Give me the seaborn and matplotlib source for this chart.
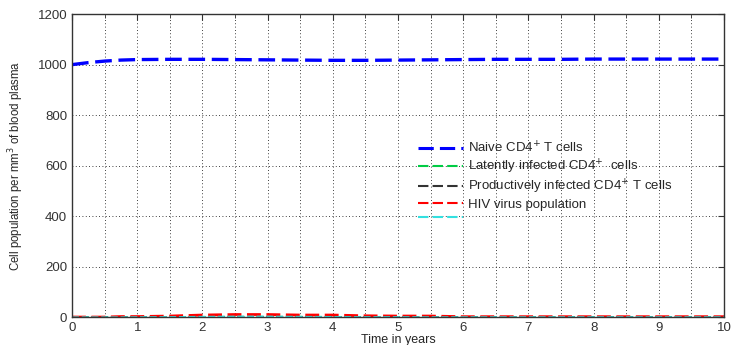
import numpy as np
import pandas as pd
import matplotlib
matplotlib.use("Agg")
import matplotlib.pyplot as plt
import seaborn as sns
from matplotlib import font_manager
from matplotlib.ticker import MultipleLocator

# ==========================================
# DATA
# ==========================================

time_years = [0, 0.25, 0.5, 0.75, 1, 1.5, 2, 2.5, 3, 3.5, 4, 4.5, 5,
              5.5, 6, 6.5, 7, 7.5, 8, 8.5, 9, 9.5, 10]

naive_cd4 = [1000, 1008, 1014, 1018, 1020, 1021, 1021, 1020, 1019, 1018,
             1017, 1017, 1018, 1019, 1020, 1021, 1021, 1021, 1022, 1022,
             1022, 1022, 1022]
latent_cd4 = [0, 0, 0, 0, 0.5, 1, 1.5, 2, 2, 2, 1.5, 1, 1,
              0.5, 0.5, 0.5, 0.5, 0.5, 0.5, 0.5, 0.5, 0.5, 0.5]
productive_cd4 = [0, 0, 0, 0, 0.3, 0.5, 0.8, 1, 1, 1, 0.8, 0.6, 0.5,
                  0.4, 0.3, 0.3, 0.3, 0.3, 0.3, 0.3, 0.3, 0.3, 0.3]
hiv_virus = [0, 0, 0, 2, 2, 4, 8, 10, 10, 8, 8, 5, 4,
             4, 1.5, 1.5, 1.5, 1.5, 1.5, 1.5, 1.5, 1.5, 1.5]
cyan_series = [0, 0, 0, 0, 0.5, 1, 2, 3, 3, 2, 1.5, 1, 1,
               0.5, 0.5, 0.5, 0.5, 0.5, 0.5, 0.5, 0.5, 0.5, 0.5]

series_labels = [
    "Naive CD4$^{+}$ T cells",
    "Latently infected CD4$^{+}$  cells",
    "Productively infected CD4$^{+}$ T cells",
    "HIV virus population",
    " ",
]
series_values = [naive_cd4, latent_cd4, productive_cd4, hiv_virus, cyan_series]
series_colors = ["#0000ff", "#00cc44", "#333333", "#ff0000", "#33e0e0"]
series_widths = [2.4, 1.0, 1.0, 2.0, 1.0]

# ==========================================
# PLOT
# ==========================================

sns.set_style("white")
plt.rcParams["font.family"] = ["Liberation Sans", "DejaVu Sans"]

# narrow font for the y label if it is there
try:
    font_manager.findfont("Liberation Sans Narrow", fallback_to_default=False)
    ylab_family, ylab_size = ["Liberation Sans Narrow"], 10.5
except Exception:
    ylab_family, ylab_size = ["Liberation Sans", "DejaVu Sans"], 8.3

fig = plt.figure(figsize=(7.31, 3.45), dpi=100)
ax = fig.add_axes([0.0985, 0.081, 0.892, 0.878])

for label, vals, color, lw in zip(series_labels, series_values,
                                  series_colors, series_widths):
    sns.lineplot(x=time_years, y=vals, ax=ax, color=color, label=label,
                 linewidth=lw, linestyle=(0, (5, 2)))

ax.set_xlim(0, 10)
ax.set_ylim(0, 1200)
ax.xaxis.set_major_locator(MultipleLocator(1))
ax.xaxis.set_minor_locator(MultipleLocator(0.5))
ax.yaxis.set_major_locator(MultipleLocator(200))

ax.grid(True, which="both", axis="x", linestyle=(0, (1, 3)),
        color="black", linewidth=0.6)
ax.grid(True, which="major", axis="y", linestyle=(0, (1, 3)),
        color="black", linewidth=0.6)

ax.tick_params(axis="both", which="both", direction="in", top=True,
               right=True, labelsize=9.5, colors="#333333", length=4)
ax.tick_params(axis="both", which="minor", length=3)

for spine in ax.spines.values():
    spine.set_color("#333333")
    spine.set_linewidth(1.0)

ax.set_xlabel("Time in years", fontsize=9, labelpad=0)
ax.set_ylabel("Cell population per mm$^{3}$ of blood plasma",
              fontsize=ylab_size, family=ylab_family, labelpad=8)

leg = ax.legend(loc="upper left", bbox_to_anchor=(0.522, 0.6), frameon=False,
                fontsize=9.5, handlelength=3.4, handletextpad=0.4,
                labelspacing=0.15, borderaxespad=0)
for line in leg.get_lines():
    line.set_linewidth(1.5)
leg.get_lines()[0].set_linewidth(2.2)

fig.savefig("out.png", dpi=100)
